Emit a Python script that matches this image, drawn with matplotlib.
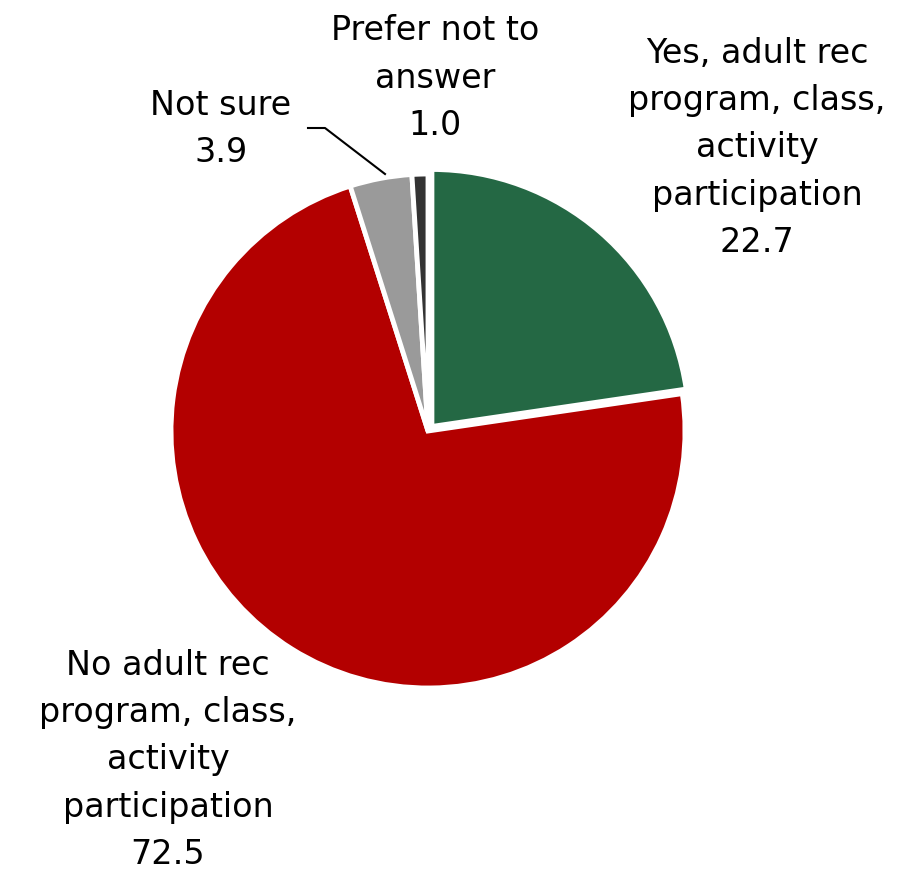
import matplotlib
matplotlib.use("Agg")
import matplotlib.pyplot as plt

labels = ["Yes, adult rec\nprogram, class,\nactivity\nparticipation",
          "No adult rec\nprogram, class,\nactivity\nparticipation",
          "Not sure",
          "Prefer not to\nanswer"]
values = [22.7, 72.5, 3.9, 1.0]
colors = ["#246844", "#b30000", "#9a9a9a", "#333333"]

# label centres in pixel coords (x, y from top)
label_pos = [(757, 148), (168, 760), (221, 129), (435, 78)]

W, H = 910, 878
fig = plt.figure(figsize=(W / 100, H / 100), dpi=100)
ax = fig.add_axes([0, 0, 1, 1])

# explode is in data units here (pixels)
ax.pie(values, colors=colors, startangle=90, counterclock=False,
       center=(428, H - 432), radius=257, explode=[6, 0, 0, 0],
       wedgeprops=dict(edgecolor="white", linewidth=3.5), frame=True)
ax.set_xlim(0, W)
ax.set_ylim(0, H)
ax.set_aspect("equal")
ax.axis("off")

for lab, v, (x, y) in zip(labels, values, label_pos):
    ax.text(x, H - y, lab + "\n" + "%.1f" % v, ha="center", va="center",
            fontsize=24, linespacing=1.55, color="black")

# leader line for "Not sure"
ax.plot([308, 325, 385], [H - 129, H - 129, H - 175], color="black", lw=1.5)

fig.savefig("out.png", dpi=100)
